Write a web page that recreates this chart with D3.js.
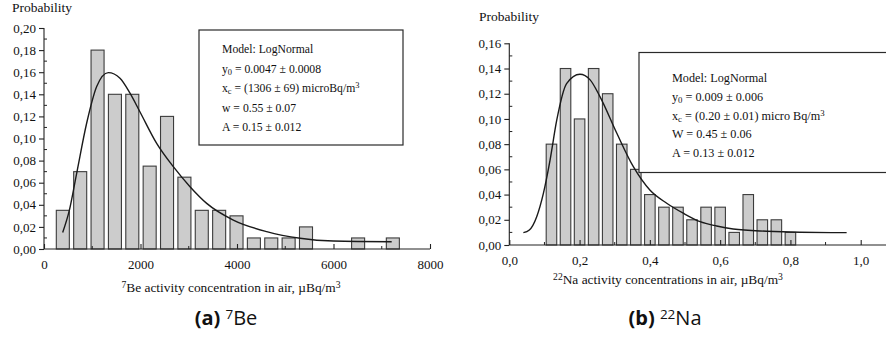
<!DOCTYPE html>
<html lang="en">
<head>
<meta charset="UTF-8">
<title>Activity histograms</title>
<script src="https://cdn.jsdelivr.net/npm/d3@7"></script>
<style>
  body { margin: 0; background: #fff; }
  svg text { font-family: "Liberation Serif", "Times New Roman", serif; fill: #111; }
</style>
</head>
<body>
<div id="chart"></div>
<script>
// ---- 7Be histogram (left) ----
const beCenters = [390, 750, 1110, 1470, 1830, 2190, 2550, 2910, 3270, 3630, 3990, 4350, 4710, 5070, 5430, 6510, 7230]
const beValues  = [0.035, 0.07, 0.18, 0.14, 0.14, 0.075, 0.12, 0.065, 0.035, 0.035, 0.03, 0.01, 0.01, 0.01, 0.02, 0.01, 0.01]
// fitted lognormal curve
const beFitX = [387, 525, 677, 885, 1092, 1333, 1575, 1782, 1990, 2335, 2680, 3026, 3372, 3923, 4615, 5306, 5996, 7206]
const beFitY = [0.015, 0.035, 0.0685, 0.114, 0.147, 0.1596, 0.1545, 0.141, 0.124, 0.0956, 0.0745, 0.0564, 0.0413, 0.0262, 0.0157, 0.0097, 0.0072, 0.0066]
const beXTicks = [0, 2000, 4000, 6000, 8000]
const beYTicks = [0, 0.02, 0.04, 0.06, 0.08, 0.10, 0.12, 0.14, 0.16, 0.18, 0.20]

// ---- 22Na histogram (right) ----
const naCenters = [0.12, 0.16, 0.20, 0.24, 0.28, 0.32, 0.36, 0.40, 0.44, 0.48, 0.52, 0.56, 0.60, 0.64, 0.68, 0.72, 0.76, 0.80]
const naValues  = [0.08, 0.14, 0.10, 0.14, 0.12, 0.08, 0.06, 0.04, 0.03, 0.03, 0.02, 0.03, 0.03, 0.01, 0.04, 0.02, 0.02, 0.01]
const naFitX = [0.040, 0.057, 0.078, 0.097, 0.116, 0.135, 0.163, 0.201, 0.230, 0.258, 0.306, 0.353, 0.400, 0.448, 0.495, 0.543, 0.590, 0.637, 0.733, 0.827, 0.960]
const naFitY = [0.0098, 0.0119, 0.0225, 0.041, 0.0674, 0.099, 0.128, 0.1354, 0.131, 0.1177, 0.0886, 0.0621, 0.0436, 0.0331, 0.0252, 0.0185, 0.0151, 0.0127, 0.0109, 0.0101, 0.0098]
const naXTicks = [0, 0.2, 0.4, 0.6, 0.8, 1.0]
const naYTicks = [0, 0.02, 0.04, 0.06, 0.08, 0.10, 0.12, 0.14, 0.16]

// legend lines: [text, mode] where mode is '', 'sub' or 'sup'
const beLegend = [
  [['Model: LogNormal', '']],
  [['y', ''], ['0', 'sub'], [' = 0.0047 \u00b1 0.0008', '']],
  [['x', ''], ['c', 'sub'], [' = (1306 \u00b1 69) microBq/m', ''], ['3', 'sup']],
  [['w = 0.55 \u00b1 0.07', '']],
  [['A = 0.15 \u00b1 0.012', '']]
]
const naLegend = [
  [['Model: LogNormal', '']],
  [['y', ''], ['0', 'sub'], [' = 0.009 \u00b1 0.006', '']],
  [['x', ''], ['c', 'sub'], [' = (0.20 \u00b1 0.01) micro Bq/m', ''], ['3', 'sup']],
  [['W = 0.45 \u00b1 0.06', '']],
  [['A = 0.13 \u00b1 0.012', '']]
]

const W = 886, H = 337
const svg = d3.select('#chart').append('svg').attr('width', W).attr('height', H)

const comma = (d, n) => d.toFixed(n).replace('.', ',')

function richText(sel, parts, size) {
  parts.forEach(p => {
    const t = sel.append('tspan').text(p[0])
    if (p[1] === 'sub') t.attr('font-size', size * 0.72).attr('baseline-shift', '-25%')
    if (p[1] === 'sup') t.attr('font-size', size * 0.72).attr('baseline-shift', '45%')
  })
}

function drawPanel(o) {
  const g = svg.append('g')
  const x = d3.scaleLinear().domain(o.xDom).range(o.xRange)
  const y = d3.scaleLinear().domain(o.yDom).range(o.yRange)
  const y0 = y(0)

  // bars
  g.selectAll('rect.bar').data(o.centers.map((c, i) => [c, o.values[i]])).enter()
    .append('rect')
    .attr('x', d => x(d[0] - o.barW / 2))
    .attr('width', d => x(d[0] + o.barW / 2) - x(d[0] - o.barW / 2))
    .attr('y', d => y(d[1]))
    .attr('height', d => y0 - y(d[1]))
    .attr('fill', '#cccccc')
    .attr('stroke', '#3c3c3c')
    .attr('stroke-width', 1.1)

  // fit curve
  const line = d3.line().x(d => x(d[0])).y(d => y(d[1])).curve(d3.curveMonotoneX)
  g.append('path').datum(o.fitX.map((v, i) => [v, o.fitY[i]]))
    .attr('d', line).attr('fill', 'none').attr('stroke', '#1a1a1a').attr('stroke-width', 1.4)

  // y axis
  const ya = g.append('g').attr('transform', `translate(${x(0)},0)`)
    .call(d3.axisLeft(y).tickValues(o.yTicks).tickSize(5).tickPadding(3).tickFormat(d => comma(d, 2)))
  ya.select('.domain').attr('d', `M0,${y0}V${y(o.yDom[1])}`)
  const yMinor = d3.range(0.01, o.yDom[1], 0.02)
  ya.selectAll('line.minor').data(yMinor).enter().append('line')
    .attr('x1', 0).attr('x2', 3).attr('y1', d => y(d)).attr('y2', d => y(d)).attr('stroke', '#222')

  // x axis
  const xa = g.append('g').attr('transform', `translate(0,${y0})`)
    .call(d3.axisBottom(x).tickValues(o.xTicks).tickSize(-5).tickPadding(11).tickFormat(o.xFmt))
  xa.select('.domain').attr('d', `M${x(0)},0H${o.xEnd}`)
  xa.selectAll('line.minor').data(o.xMinor).enter().append('line')
    .attr('x1', d => x(d)).attr('x2', d => x(d)).attr('y1', 0).attr('y2', -3).attr('stroke', '#222')

  g.selectAll('.tick text').attr('font-size', 13).attr('font-family', '"Liberation Serif", serif').attr('fill', '#111')
  g.selectAll('.domain, .tick line').attr('stroke', '#222').attr('stroke-width', 1.1)

  // legend box
  const lb = g.append('g')
  lb.append('rect').attr('x', o.box[0]).attr('y', o.box[1]).attr('width', o.box[2]).attr('height', o.box[3])
    .attr('fill', '#fff').attr('stroke', '#2a2a2a').attr('stroke-width', 1.2)
  o.legend.forEach((parts, i) => {
    const t = lb.append('text').attr('x', o.legX).attr('y', o.legY + i * o.legStep).attr('font-size', o.legSize)
    richText(t, parts, o.legSize)
  })

  // axis titles
  g.append('text').attr('x', o.probX).attr('y', o.probY).attr('font-size', 13.5).text('Probability')
  const xt = g.append('text').attr('x', o.titleX).attr('y', o.titleY).attr('text-anchor', 'middle').attr('font-size', 13.4)
  richText(xt, o.title, 13.4)

  // caption
  const cap = g.append('text').attr('x', o.capX).attr('y', 325).attr('text-anchor', 'middle')
    .attr('font-size', 20)
    .style('font-family', '"Open Sans", "DejaVu Sans", sans-serif')
  cap.append('tspan').attr('font-weight', 'bold').text(o.cap[0])
  cap.append('tspan').text(' ')
  cap.append('tspan').attr('font-size', 13.5).attr('baseline-shift', '40%').text(o.cap[1])
  cap.append('tspan').text(o.cap[2])
}

drawPanel({
  centers: beCenters, values: beValues, barW: 270,
  fitX: beFitX, fitY: beFitY,
  xDom: [0, 8000], xRange: [44, 430], xEnd: 430,
  yDom: [0, 0.2], yRange: [249, 28],
  xTicks: beXTicks, yTicks: beYTicks, xMinor: [1000, 3000, 5000, 7000],
  xFmt: d => String(d),
  box: [199, 30, 204, 115], legX: 222, legY: 53, legStep: 19.5, legSize: 11.7, legend: beLegend,
  probX: 12, probY: 12,
  titleX: 231, titleY: 292,
  title: [['7', 'sup'], ['Be activity concentration in air, \u00b5Bq/m', ''], ['3', 'sup']],
  capX: 226, cap: ['(a)', '7', 'Be']
})

drawPanel({
  centers: naCenters, values: naValues, barW: 0.03,
  fitX: naFitX, fitY: naFitY,
  xDom: [0, 1], xRange: [509.3, 860.7], xEnd: 886,
  yDom: [0, 0.16], yRange: [245, 43.3],
  xTicks: naXTicks, yTicks: naYTicks, xMinor: [0.1, 0.3, 0.5, 0.7, 0.9],
  xFmt: d => comma(d, 1),
  box: [639, 52.5, 260, 120], legX: 672, legY: 82, legStep: 18.8, legSize: 12.2, legend: naLegend,
  probX: 479, probY: 21,
  titleX: 668, titleY: 284,
  title: [['22', 'sup'], ['Na activity concentrations in air, \u00b5Bq/m', ''], ['3', 'sup']],
  capX: 665, cap: ['(b)', '22', 'Na']
})
</script>
</body>
</html>
